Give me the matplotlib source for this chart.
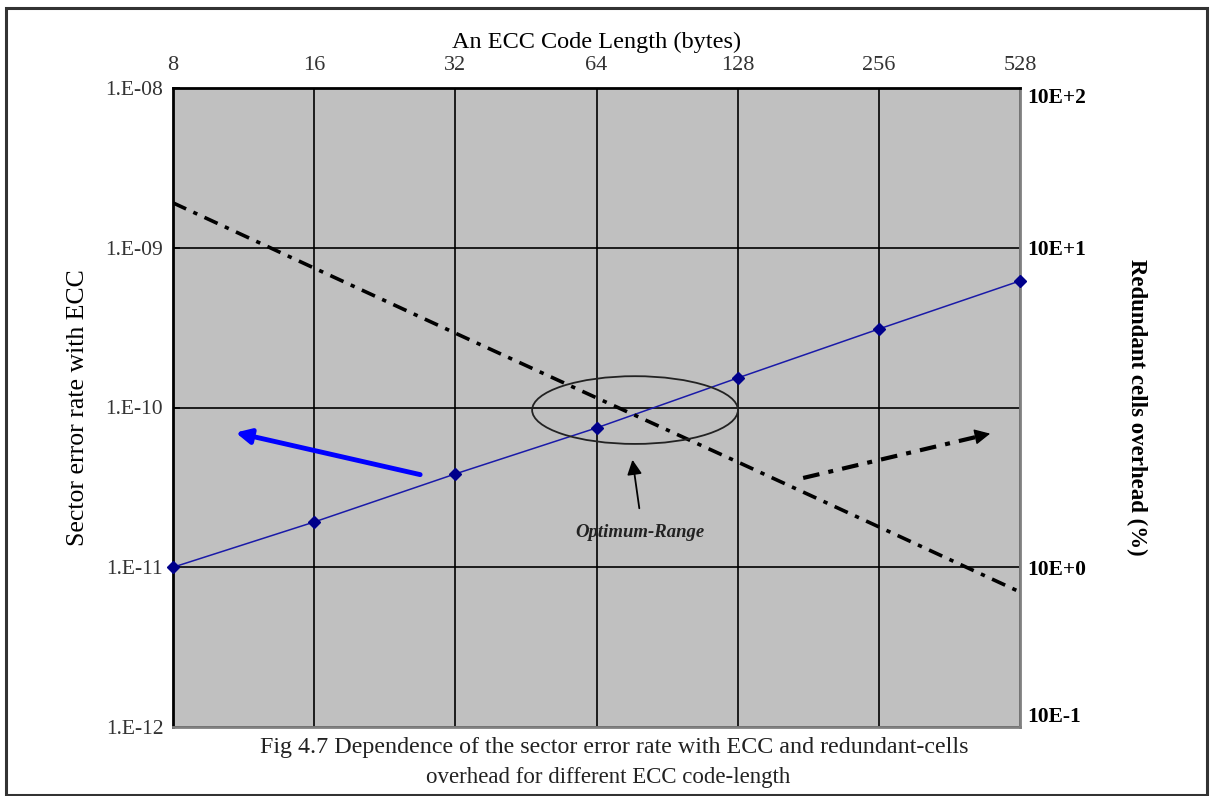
import matplotlib
matplotlib.use("Agg")
import matplotlib.pyplot as plt
from matplotlib.patches import Ellipse, Rectangle

plt.rcParams['font.family'] = ['Liberation Serif', 'DejaVu Serif']

# data
code_lengths = ['8', '16', '32', '64', '128', '256', '528']
error_rate = [1.0e-11, 1.92e-11, 3.84e-11, 7.45e-11, 1.53e-10, 3.1e-10, 6.2e-10]
# redundant-cells overhead, drawn against the right axis (same scale positions)
overhead = [1.91e-9, 7.46e-10, 2.92e-10, 1.15e-10, 4.56e-11, 1.79e-11, 7.0e-12]
left_ticks = [1e-12, 1e-11, 1e-10, 1e-9, 1e-8]
left_labels = ['1.E-12', '1.E-11', '1.E-10', '1.E-09', '1.E-08']
right_ticks = [1e-12, 1e-11, 1e-9, 1e-8]
right_labels = ['10E-1', '10E+0', '10E+1', '10E+2']

W, H = 1210, 796
fig = plt.figure(figsize=(W / 100, H / 100), dpi=100)
ax = fig.add_axes([173 / W, 1 - 727 / H, (1020 - 173) / W, (727 - 88) / H])
ax.set_facecolor('#c0c0c0')

x = list(range(len(code_lengths)))
ax.plot(x, error_rate, color='#1a1aa8', lw=1.1, marker='D', ms=6,
        mfc='#00008b', mec='#00008b', zorder=4, clip_on=False)

ax.set_yscale('log')
ax.set_ylim(1e-12, 1e-8)
ax.set_xlim(0, len(code_lengths) - 1)
ax.set_yticks(left_ticks)
ax.set_yticklabels(left_labels)
ax.minorticks_off()
ax.tick_params(axis='y', direction='in', length=5, width=1.2, labelsize=15.5,
               labelcolor='#333333', pad=7)

ax.xaxis.tick_top()
ax.xaxis.set_label_position('top')
ax.set_xticks(x)
ax.set_xticklabels(code_lengths)
ax.tick_params(axis='x', length=0, labelsize=16, labelcolor='#333333', pad=9)
ax.set_xlabel('An ECC Code Length (bytes)', fontsize=17.5, labelpad=6)
ax.set_ylabel('Sector error rate with ECC', fontsize=18.5, labelpad=12)

ax.grid(True, color='black', lw=1.2)
for s in ['top', 'left']:
    ax.spines[s].set_color('black')
    ax.spines[s].set_linewidth(2)
for s in ['right', 'bottom']:
    ax.spines[s].set_color('#808080')
    ax.spines[s].set_linewidth(2)

ax2 = ax.twinx()
ax2.set_yscale('log')
ax2.set_ylim(1e-12, 1e-8)
ax2.plot(x, overhead, color='black', lw=2.6, ls=(0, (4, 2.2, 1.2, 2.2)), zorder=3)
ax2.set_yticks(right_ticks)
ax2.set_yticklabels(right_labels)
ax2.minorticks_off()
ax2.tick_params(axis='y', length=0, labelsize=15.5, pad=5)
for lab in ax2.get_yticklabels():
    lab.set_fontweight('bold')
lbs = ax2.get_yticklabels()
lbs[0].set_va('bottom')
lbs[-1].set_va('top')
ax2.set_ylabel('Redundant cells overhead (%)', fontsize=16.5, fontweight='bold',
               rotation=-90, labelpad=44)
for s in ax2.spines.values():
    s.set_visible(False)

# optimum range ellipse and annotations
ax2.add_patch(Ellipse((0.5455, 0.496), 0.243, 0.106, transform=ax.transAxes,
                      fill=False, ec='#222222', lw=1.3, zorder=5))
ax2.annotate('', xy=(0.542, 0.4225), xytext=(0.551, 0.338),
             xycoords='axes fraction', textcoords='axes fraction',
             arrowprops=dict(arrowstyle='-|>', color='black', lw=1.3,
                             mutation_scale=22))
ax2.text(0.551, 0.304, 'Optimum-Range', transform=ax.transAxes, ha='center',
         va='center', fontsize=13.5, style='italic', fontweight='bold',
         color='#222222')

# blue arrow pointing to left axis
ax2.annotate('', xy=(0.0708, 0.4617), xytext=(0.295, 0.394),
             xycoords='axes fraction', textcoords='axes fraction',
             arrowprops=dict(arrowstyle='-|>', color='#0000ff', lw=3.5,
                             mutation_scale=22))
# dash-dot arrow pointing to right axis
ax2.plot([0.744, 0.955], [0.3897, 0.456], transform=ax.transAxes, color='black',
         lw=3, ls=(0, (4, 2.2, 1.2, 2.2)))
ax2.annotate('', xy=(0.968, 0.460), xytext=(0.945, 0.4535),
             xycoords='axes fraction', textcoords='axes fraction',
             arrowprops=dict(arrowstyle='-|>', color='black', lw=1,
                             mutation_scale=24))

fig.text(614 / W, 1 - 748 / H,
         'Fig 4.7 Dependence of the sector error rate with ECC and redundant-cells',
         ha='center', va='center', fontsize=17.3, color='#222222')
fig.text(608 / W, 1 - 778 / H, 'overhead for different ECC code-length',
         ha='center', va='center', fontsize=16.5, color='#222222')

fig.add_artist(Rectangle((6 / W, 1 - 795 / H), 1201 / W, 787 / H,
                         transform=fig.transFigure, fill=False,
                         ec='#333333', lw=2.2))

fig.savefig('out.png', dpi=100)
